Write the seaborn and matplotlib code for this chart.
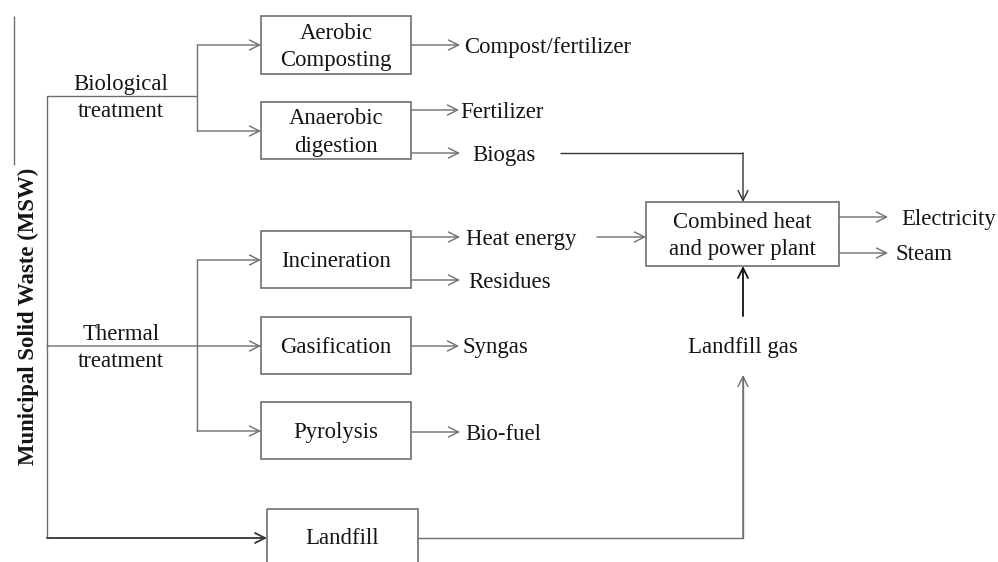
import matplotlib
matplotlib.use("Agg")
import matplotlib.pyplot as plt
from matplotlib.patches import Rectangle
import seaborn as sns

# labels of the flowchart
source_label = "Municipal Solid Waste (MSW)"
treatments = ["Biological\ntreatment", "Thermal\ntreatment"]
processes = ["Aerobic\nComposting", "Anaerobic\ndigestion", "Incineration",
             "Gasification", "Pyrolysis", "Landfill"]
products = ["Compost/fertilizer", "Fertilizer", "Biogas", "Heat energy",
            "Residues", "Syngas", "Bio-fuel"]
plant_label = "Combined heat\nand power plant"
plant_outputs = ["Electricity", "Steam"]
landfill_gas = "Landfill gas"

# layout in pixel coordinates (x, y from top-left)
box_pos = {
    "Aerobic\nComposting": (261, 16, 411, 74),
    "Anaerobic\ndigestion": (261, 102, 411, 159),
    "Incineration": (261, 231, 411, 288),
    "Gasification": (261, 317, 411, 374),
    "Pyrolysis": (261, 402, 411, 459),
    "Landfill": (267, 509, 418, 580),
}
plant_box = (646, 202, 839, 266)
product_pos = {  # arrow y, arrow end x, text x
    "Compost/fertilizer": (45, 460, 464),
    "Fertilizer": (110, 459, 460),
    "Biogas": (153, 460, 472),
    "Heat energy": (237, 460, 466),
    "Residues": (280, 460, 468),
    "Syngas": (346, 459, 463),
    "Bio-fuel": (432, 460, 465),
}
output_pos = {"Electricity": (217, 901), "Steam": (253, 896)}

LINE = "#6e6e6e"
TXT = "#151515"
FS = 16.4
DY = 2  # small downward nudge for text centres

sns.set_theme(style="white")
plt.rcParams["font.family"] = ["Liberation Serif", "DejaVu Serif"]

fig = plt.figure(figsize=(9.98, 5.62), dpi=100)
ax = fig.add_axes([0, 0, 1, 1])
ax.set_xlim(0, 998)
ax.set_ylim(562, 0)
ax.axis("off")


def arrow(x0, y0, x1, y1, color=LINE, lw=1.0):
    ax.annotate("", xy=(x1, y1), xytext=(x0, y0),
                arrowprops=dict(arrowstyle="->,head_length=0.6,head_width=0.3",
                                color=color, lw=lw, shrinkA=0, shrinkB=0))


def line(xs, ys, color=LINE, lw=1.0):
    ax.plot(xs, ys, color=color, lw=lw, solid_capstyle="butt")


def label(x, y, s, ha="center"):
    ax.text(x, y + DY, s, ha=ha, va="center", fontsize=FS, color=TXT,
            linespacing=1.4)


def box(x0, y0, x1, y1, s):
    ax.add_patch(Rectangle((x0, y0), x1 - x0, y1 - y0, fill=False,
                           edgecolor=LINE, lw=1.2))
    label((x0 + x1) / 2, min((y0 + y1) / 2, 537), s)


# left border and vertical title
line([14, 14], [16, 165])
ax.text(28, 316, source_label, rotation=90, ha="center", va="center",
        fontsize=FS, fontweight="bold", color=TXT)

# main trunk
line([47, 47, 197], [538, 96, 96])
label(121, 96, treatments[0])
line([197, 197], [45, 131])
arrow(197, 45, 261, 45)
arrow(197, 131, 261, 131)

label(121, 346, treatments[1])
arrow(47, 346, 261, 346)
line([197, 197], [260, 431])
arrow(197, 260, 261, 260)
arrow(197, 431, 261, 431)

arrow(47, 538, 267, 538, color="#333333", lw=1.3)

for p in processes:
    box(*box_pos[p], p)

for p in products:
    y, xe, xt = product_pos[p]
    arrow(411, y, xe, y)
    label(xt, y, p, ha="left")

# combined heat and power plant
box(*plant_box, plant_label)
line([560, 743], [153, 153], color="#333333")
arrow(743, 153, 743, 202, color="#333333")
arrow(597, 237, 646, 237)
for o in plant_outputs:
    y, xt = output_pos[o]
    arrow(839, y, 888, y)
    label(xt, y, o, ha="left")

# landfill gas
line([418, 743, 743], [538, 538, 376])
arrow(743, 538, 743, 375)
label(743, 346, landfill_gas)
arrow(743, 316, 743, 266, color="#111111", lw=1.3)

fig.savefig("out.png", dpi=100)
